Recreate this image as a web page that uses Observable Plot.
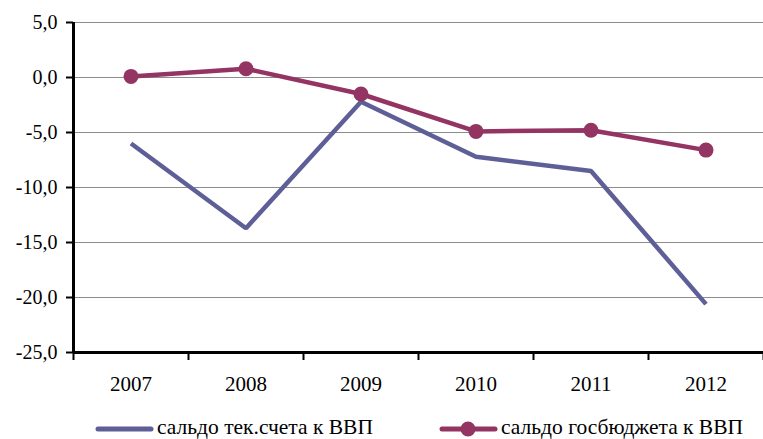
<!DOCTYPE html>
<html><head><meta charset="utf-8">
<script src="https://cdn.jsdelivr.net/npm/d3@7"></script>
<script src="https://cdn.jsdelivr.net/npm/@observablehq/plot@0.6"></script>
<style>
body{margin:0;background:#fff;font-family:"Liberation Serif","Times New Roman","DejaVu Serif",serif;}
#wrap{position:relative;width:763px;height:439px;overflow:hidden;}
#legend{position:absolute;left:0;top:416px;width:763px;height:23px;font-size:21.5px;line-height:23px;color:#000;}
.item{position:absolute;top:0;display:flex;align-items:center;white-space:nowrap;}
</style></head>
<body><div id="wrap"><div id="chart"></div><div id="legend"></div></div>
<script>
const years = [2007, 2008, 2009, 2010, 2011, 2012];
const currentAccount = [-6.0, -13.7, -2.2, -7.2, -8.5, -20.6];
const budgetBalance = [0.1, 0.8, -1.5, -4.9, -4.8, -6.6];
const seriesNames = ["сальдо тек.счета к ВВП", "сальдо госбюджета к ВВП"];
const colors = ["#5E5F97", "#943463"];
const yTicks = [-25, -20, -15, -10, -5, 0, 5];

const ca = years.map((y, i) => ({year: y, value: currentAccount[i]}));
const bb = years.map((y, i) => ({year: y, value: budgetBalance[i]}));
const fmt = d => d.toFixed(1).replace(".", ",");
const bounds = [2006.5, 2007.5, 2008.5, 2009.5, 2010.5, 2011.5, 2012.5];

const chart = Plot.plot({
  width: 763,
  height: 410,
  marginLeft: 73,
  marginRight: 0,
  marginTop: 22,
  marginBottom: 58,
  style: {fontFamily: "'Liberation Serif','Times New Roman','DejaVu Serif',serif", fontSize: "20px", color: "#000", background: "#fff"},
  x: {domain: [2006.5, 2012.5]},
  y: {domain: [-25, 5]},
  marks: [
    Plot.ruleY(yTicks.filter(d => d > -25), {stroke: "#8c8c8c", strokeWidth: 1, strokeOpacity: 1}),
    Plot.axisY({ticks: yTicks, tickFormat: fmt, tickSize: 7, tickPadding: 9, stroke: "#000", strokeWidth: 2, fontSize: 20, label: null}),
    Plot.axisX({ticks: bounds, tickFormat: () => "", tickSize: 8, stroke: "#000", strokeWidth: 2, label: null}),
    Plot.axisX({ticks: years, tickFormat: d => String(d), tickSize: 0, tickPadding: 24, fontSize: 21, label: null}),
    Plot.ruleX([2006.5], {stroke: "#000", strokeWidth: 3}),
    Plot.ruleY([-25], {stroke: "#000", strokeWidth: 3}),
    Plot.line(ca, {x: "year", y: "value", stroke: colors[0], strokeWidth: 4.5, strokeLinejoin: "miter", strokeLinecap: "butt"}),
    Plot.line(bb, {x: "year", y: "value", stroke: colors[1], strokeWidth: 4.5}),
    Plot.dot(bb, {x: "year", y: "value", r: 7.5, fill: colors[1], stroke: "none"})
  ]
});
document.getElementById("chart").appendChild(chart);

const legend = document.getElementById("legend");
const svgNS = "http://www.w3.org/2000/svg";
function item(left, name, color, withDot) {
  const div = document.createElement("div");
  div.className = "item";
  div.style.left = left + "px";
  const s = document.createElementNS(svgNS, "svg");
  s.setAttribute("width", 62); s.setAttribute("height", 23);
  const l = document.createElementNS(svgNS, "line");
  l.setAttribute("x1", 3); l.setAttribute("x2", 56); l.setAttribute("y1", 13); l.setAttribute("y2", 13);
  l.setAttribute("stroke", color); l.setAttribute("stroke-width", 5); l.setAttribute("stroke-linecap", "round");
  s.appendChild(l);
  if (withDot) {
    const c = document.createElementNS(svgNS, "circle");
    c.setAttribute("cx", 29); c.setAttribute("cy", 13); c.setAttribute("r", 7.5); c.setAttribute("fill", color);
    s.appendChild(c);
  }
  div.appendChild(s);
  const t = document.createElement("span");
  t.textContent = name;
  div.appendChild(t);
  legend.appendChild(div);
}
item(95, seriesNames[0], colors[0], false);
item(439, seriesNames[1], colors[1], true);
</script></body></html>
